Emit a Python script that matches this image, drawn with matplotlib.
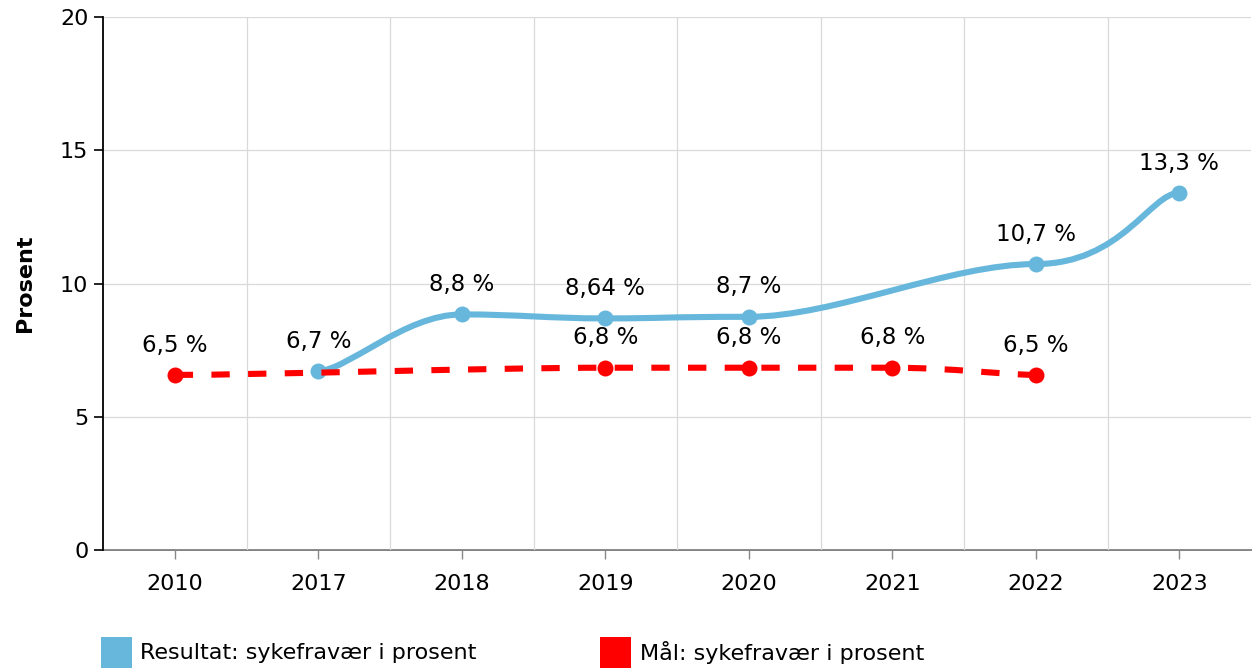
"""Sykefravær: resultat vs. mål (amCharts-style smoothed lines)."""

import matplotlib

matplotlib.use("Agg")
import matplotlib.pyplot as plt
import numpy as np
from matplotlib.patches import PathPatch, Rectangle
from matplotlib.path import Path

years = ["2010", "2017", "2018", "2019", "2020", "2021", "2022", "2023"]

result_vals = [np.nan, 6.72, 8.84, 8.69, 8.75, np.nan, 10.73, 13.4]
result_labels = [None, "6,7 %", "8,8 %", "8,64 %", "8,7 %", None, "10,7 %", "13,3 %"]

goal_vals = [6.57, np.nan, np.nan, 6.84, 6.84, 6.84, 6.57, np.nan]
goal_labels = ["6,5 %", None, None, "6,8 %", "6,8 %", "6,8 %", "6,5 %", None]

legend_names = ["Resultat: sykefravær i prosent", "Mål: sykefravær i prosent"]

BLUE = "#67b7dc"
RED = "#ff0000"
FS = 16


def smooth_path(xs, ys, tension_x=0.8):
    """Catmull-Rom-ish bezier with tension only in x (flat tangents at points)."""
    a = 1 - tension_x
    n = len(xs)
    verts = [(xs[0], ys[0])]
    codes = [Path.MOVETO]
    for i in range(n - 1):
        x0 = xs[max(i - 1, 0)]
        x1, x2 = xs[i], xs[i + 1]
        x3 = xs[min(i + 2, n - 1)]
        ca = (x1 + a * (x2 - x0), ys[i])
        cb = (x2 - a * (x3 - x1), ys[i + 1])
        verts += [ca, cb, (x2, ys[i + 1])]
        codes += [Path.CURVE4] * 3
    return Path(verts, codes)


def draw_series(ax, vals, labels, color, dashed, z):
    vals = np.asarray(vals, dtype=float)
    idx = np.where(~np.isnan(vals))[0]
    xs, ys = idx.astype(float), vals[idx]
    ls = (0, (3.0, 3.0)) if dashed else "-"
    patch = PathPatch(smooth_path(xs, ys), fill=False, edgecolor=color,
                      lw=4.4, linestyle=ls, capstyle="butt", zorder=z)
    ax.add_patch(patch)
    ax.plot(xs, ys, "o", color=color, ms=11.5, mew=0, zorder=z + 0.1)
    for i in idx:
        if labels[i]:
            ax.annotate(labels[i], (i, vals[i]), xytext=(0, 21.5),
                        textcoords="offset points", ha="center", va="center",
                        fontsize=FS + 0.5, color="black", zorder=z + 1)


fig = plt.figure(figsize=(12.54, 6.69), dpi=100)
ax = fig.add_axes([103 / 1254, 1 - 550 / 669, (1251 - 103) / 1254, (550 - 17) / 669])

x = np.arange(len(years))
ax.set_xlim(-0.5, len(years) - 0.5)
ax.set_ylim(0, 20)
ax.set_yticks([0, 5, 10, 15, 20])
ax.set_xticks(x, years)
ax.set_xticks(x[:-1] + 0.5, minor=True)

ax.grid(True, axis="y", color="#d9d9d9", lw=0.9, zorder=0)
ax.grid(True, axis="x", which="minor", color="#d9d9d9", lw=0.9, zorder=0)
ax.tick_params(axis="x", which="minor", length=0)
ax.tick_params(axis="x", which="major", length=6.5, width=1.0, color="#888888",
               pad=11, labelsize=FS)
ax.tick_params(axis="y", length=6.5, width=1.2, color="black", pad=4, labelsize=FS)

for side in ("top", "right"):
    ax.spines[side].set_visible(False)
ax.spines["left"].set_color("black")
ax.spines["left"].set_linewidth(1.3)
ax.spines["bottom"].set_color("#777777")
ax.spines["bottom"].set_linewidth(1.3)
ax.spines["bottom"].set_zorder(0.5)

ax.set_ylabel("Prosent", fontsize=FS, fontweight="bold", labelpad=18)

draw_series(ax, result_vals, result_labels, BLUE, False, 3)
draw_series(ax, goal_vals, goal_labels, RED, True, 4)

# legend along the bottom edge
for (px, tx), name, color in zip([(101, 140), (600, 640)], legend_names, [BLUE, RED]):
    fig.add_artist(Rectangle((px / 1254, 1 - 668 / 669), 31 / 1254, 31 / 669,
                             transform=fig.transFigure, color=color, lw=0))
    fig.text(tx / 1254, 1 - 653 / 669, name, fontsize=FS, va="center", ha="left")

fig.savefig("out.png", dpi=100)
